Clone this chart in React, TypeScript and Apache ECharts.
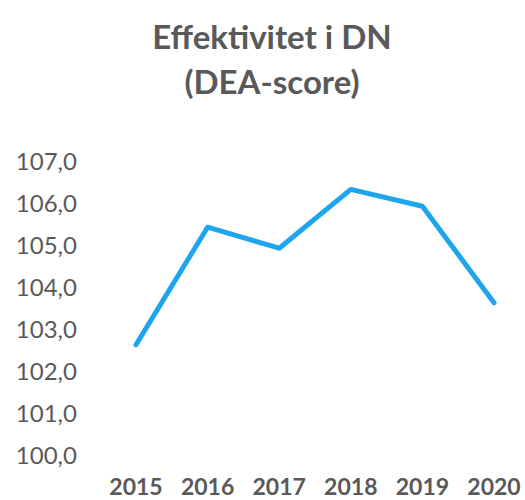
import React, { useEffect, useRef } from "react";
import * as echarts from "echarts";

const years = ["2015", "2016", "2017", "2018", "2019", "2020"];
const scores = [102.6, 105.4, 104.9, 106.3, 105.9, 103.6];
const titleLines = ["Effektivitet i DN", "(DEA-score)"];

export default function App() {
  const ref = useRef<HTMLDivElement>(null);
  useEffect(() => {
    if (!ref.current) return;
    const chart = echarts.init(ref.current, undefined, { renderer: "svg" });
    chart.setOption({
      animation: false,
      backgroundColor: "#ffffff",
      title: {
        text: titleLines.join("\n"),
        left: 267,
        textAlign: "center",
        top: 8,
        textStyle: {
          fontFamily: "Lato",
          fontWeight: "bold",
          fontSize: 33,
          lineHeight: 45,
          color: "#595959",
        },
      },
      grid: { left: 136, right: 31, top: 160, bottom: 46, containLabel: false },
      xAxis: {
        type: "category",
        data: years,
        boundaryGap: false,
        axisLine: { show: false },
        axisTick: { show: false },
        axisLabel: {
          margin: 20,
          fontFamily: "Lato",
          fontWeight: "bold",
          fontSize: 23,
          lineHeight: 24,
          color: "#595959",
        },
      },
      yAxis: {
        type: "value",
        min: 100,
        max: 107,
        interval: 1,
        splitLine: { show: false },
        axisLine: { show: false },
        axisTick: { show: false },
        axisLabel: {
          margin: 59,
          fontFamily: "Lato",
          fontSize: 24,
          color: "#595959",
          formatter: (v: number) => v.toFixed(1).replace(".", ","),
        },
      },
      series: [
        {
          type: "line",
          data: scores,
          symbol: "none",
          lineStyle: { color: "#1FA5F0", width: 5, cap: "round", join: "round" },
        },
      ],
    });
    return () => chart.dispose();
  }, []);
  return (
    <div
      ref={ref}
      style={{ position: "absolute", left: 0, top: 0, width: 525, height: 500 }}
    />
  );
}
